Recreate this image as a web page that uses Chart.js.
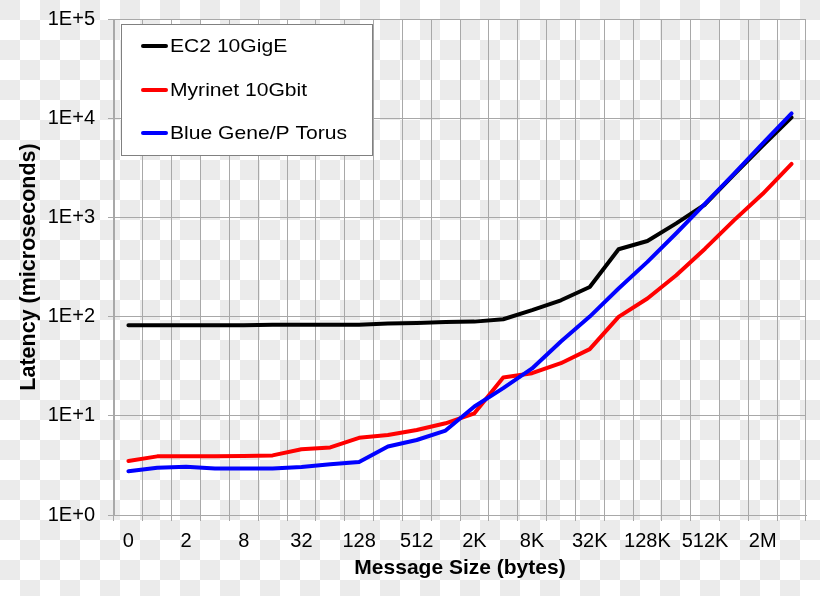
<!DOCTYPE html>
<html><head><meta charset="utf-8">
<script src="https://cdn.jsdelivr.net/npm/chart.js@4"></script>
<style>
html,body{margin:0;padding:0;}
body{width:820px;height:596px;overflow:hidden;background:repeating-conic-gradient(#fff 0 25%, #ebebeb 0 50%) 0 0/40px 40px;}
#wrap{position:relative;width:820px;height:596px;}
</style></head><body>
<div id="wrap"><canvas id="c" width="820" height="596"></canvas></div>
<script>
const categories = ['0','1','2','4','8','16','32','64','128','256','512','1K','2K','4K','8K','16K','32K','64K','128K','256K','512K','1M','2M','4M'];
const ec2Latency      = [82,82,82,82,82,83,83,83,83,85,86,88,89,94,116,146,199,477,578,870,1350,2700,5300,10190];
const myrinetLatency  = [3.5,3.9,3.9,3.9,3.94,3.99,4.6,4.8,6.0,6.4,7.2,8.4,10.6,24.3,26.9,33.9,47,99.5,152,261,484,933,1730,3465];
const blueGeneLatency = [2.76,3.0,3.07,2.95,2.95,2.95,3.05,3.24,3.43,4.9,5.7,7.1,12.4,19,30,56,100,192,356,692,1380,2750,5560,11170];
const seriesNames  = ['EC2 10GigE','Myrinet 10Gbit','Blue Gene/P Torus'];
const seriesColors = ['#000000','#ff0000','#0000ff'];
const yTicks      = [1,10,100,1000,10000,100000];
const yTickLabels = ['1E+0','1E+1','1E+2','1E+3','1E+4','1E+5'];
const xTitle = 'Message Size (bytes)';
const yTitle = 'Latency (microseconds)';

const FONT = "'Liberation Sans', Arial, sans-serif";
const GRID = '#a8a8a8';

const boxLegend = {
  id: 'boxLegend',
  afterDraw(chart) {
    const ctx = chart.ctx;
    ctx.save();
    ctx.fillStyle = '#ffffff';
    ctx.fillRect(121, 24, 251, 132);
    ctx.strokeStyle = '#808080';
    ctx.lineWidth = 1;
    ctx.strokeRect(121.5, 24.5, 251, 131);
    const rows = [46, 90, 133];
    chart.data.datasets.forEach((ds, i) => {
      const y = rows[i];
      ctx.strokeStyle = ds.borderColor;
      ctx.lineWidth = 4;
      ctx.lineCap = 'round';
      ctx.beginPath();
      ctx.moveTo(143, y);
      ctx.lineTo(166, y);
      ctx.stroke();
      ctx.save();
      ctx.translate(170, y);
      ctx.scale(1.11, 1);
      ctx.fillStyle = '#000';
      ctx.font = '19px ' + FONT;
      ctx.textBaseline = 'middle';
      ctx.textAlign = 'left';
      ctx.fillText(ds.label, 0, 1);
      ctx.restore();
    });
    ctx.restore();
  }
};

const datasets = [ec2Latency, myrinetLatency, blueGeneLatency].map((d, i) => ({
  label: seriesNames[i],
  data: d,
  borderColor: seriesColors[i],
  backgroundColor: seriesColors[i],
  borderWidth: 4,
  pointRadius: 0,
  tension: 0,
  fill: false,
  borderCapStyle: 'round',
  borderJoinStyle: 'round',
  order: 2 - i
}));

new Chart(document.getElementById('c'), {
  type: 'line',
  data: { labels: categories, datasets },
  options: {
    responsive: false,
    devicePixelRatio: 1,
    animation: false,
    layout: { padding: { left: 0, right: 14, top: 19, bottom: 0 } },
    plugins: { legend: { display: false }, tooltip: { enabled: false } },
    scales: {
      x: {
        type: 'category',
        offset: true,
        grid: { offset: true, color: GRID, lineWidth: 1, tickLength: 6, drawTicks: true },
        border: { color: GRID },
        ticks: {
          autoSkip: false, maxRotation: 0, minRotation: 0, padding: 8,
          color: '#000', font: { family: FONT, size: 20 },
          callback: (v, i) => (i % 2 === 0 ? categories[i] : '')
        },
        title: { display: true, text: xTitle, color: '#000', font: { family: FONT, size: 21, weight: 'bold' }, padding: { top: 0, bottom: 15 } },
        afterFit: s => { s.height = 81; s.paddingLeft = 0; s.paddingRight = 0; }
      },
      y: {
        type: 'logarithmic',
        min: yTicks[0], max: yTicks[yTicks.length - 1],
        afterBuildTicks: s => { s.ticks = yTicks.map(v => ({ value: v })); },
        grid: { color: GRID, lineWidth: 1, tickLength: 6, drawTicks: true },
        border: { color: GRID },
        ticks: {
          padding: 13, color: '#000', font: { family: FONT, size: 20 },
          callback: v => { const k = yTicks.indexOf(v); return k >= 0 ? yTickLabels[k] : ''; }
        },
        title: { display: true, text: yTitle, color: '#000', font: { family: FONT, size: 21.5, weight: 'bold' }, padding: { top: 16, bottom: 0 } },
        afterFit: s => { s.width = 114; s.paddingTop = 0; s.paddingBottom = 0; }
      }
    }
  },
  plugins: [boxLegend]
});
</script>
</body></html>
